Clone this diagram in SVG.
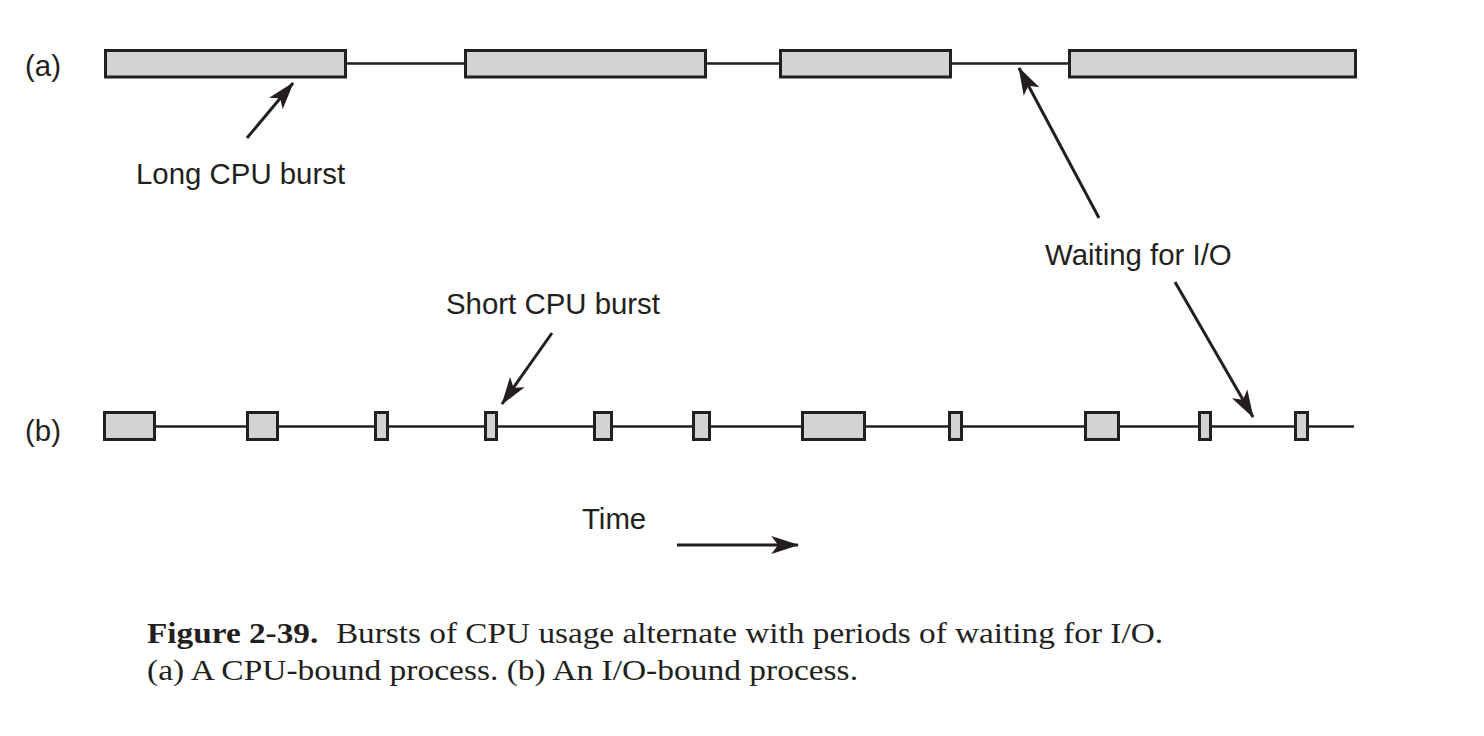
<svg xmlns="http://www.w3.org/2000/svg" width="1484" height="736" viewBox="0 0 1484 736">
<style>
.bar{fill:#d1d3d4;stroke:#231f20;stroke-width:3}
.tl{fill:none;stroke:#231f20;stroke-width:2.5}
.ar{fill:none;stroke:#231f20;stroke-width:3}
.lab{font-family:"Liberation Sans",Arial,sans-serif;font-size:29.4px;fill:#231f20}
.cap{font-family:"Liberation Serif","Times New Roman",serif;font-size:28.5px;fill:#231f20}
</style>
<defs>
<marker id="ah" markerUnits="userSpaceOnUse" markerWidth="30" markerHeight="20" viewBox="-25 -9 27 18" refX="0" refY="0" orient="auto">
<path d="M1,0 L-24,-8 L-18,0 L-24,8 Z" fill="#231f20"/>
</marker>
</defs>
<rect width="1484" height="736" fill="#ffffff"/>
<g id="row-a">
<line class="tl" x1="104" y1="63.5" x2="1357" y2="63.5"/>
<rect class="bar" x="105.5" y="50.5" width="240" height="26.5"/>
<rect class="bar" x="465.5" y="50.5" width="240" height="26.5"/>
<rect class="bar" x="780.5" y="50.5" width="170" height="26.5"/>
<rect class="bar" x="1069.5" y="50.5" width="286" height="26.5"/>
<text class="lab" x="25" y="76">(a)</text>
</g>
<g id="row-b">
<line class="tl" x1="103" y1="426.5" x2="1354" y2="426.5"/>
<rect class="bar" x="104.5" y="412.5" width="50" height="27"/>
<rect class="bar" x="247.5" y="412.5" width="30" height="27"/>
<rect class="bar" x="375.5" y="412.5" width="12" height="27"/>
<rect class="bar" x="485.5" y="412.5" width="11" height="27"/>
<rect class="bar" x="594.5" y="412.5" width="17" height="27"/>
<rect class="bar" x="693.5" y="412.5" width="16" height="27"/>
<rect class="bar" x="802.5" y="412.5" width="62" height="27"/>
<rect class="bar" x="949.5" y="412.5" width="12" height="27"/>
<rect class="bar" x="1085.5" y="412.5" width="33" height="27"/>
<rect class="bar" x="1199.5" y="412.5" width="11" height="27"/>
<rect class="bar" x="1295.5" y="412.5" width="12" height="27"/>
<text class="lab" x="25" y="441">(b)</text>
</g>
<g id="label-long">
<text class="lab" x="136" y="184">Long CPU burst</text>
</g>
<g id="label-waiting">
<text class="lab" x="1045" y="265">Waiting for I/O</text>
</g>
<g id="label-short">
<text class="lab" x="446" y="314">Short CPU burst</text>
</g>
<g id="label-time">
<text class="lab" x="582" y="529">Time</text>
</g>
<g id="connectors">
<line class="ar" x1="247" y1="138" x2="293" y2="83" marker-end="url(#ah)"/>
<line class="ar" x1="1099" y1="218" x2="1019" y2="68" marker-end="url(#ah)"/>
<line class="ar" x1="1175" y1="282" x2="1253" y2="417" marker-end="url(#ah)"/>
<line class="ar" x1="552" y1="333" x2="502" y2="404" marker-end="url(#ah)"/>
<line class="ar" x1="677" y1="545" x2="798" y2="545" marker-end="url(#ah)"/>
</g>
<g id="caption">
<text class="cap" x="147" y="643" textLength="1016" lengthAdjust="spacingAndGlyphs"><tspan font-weight="bold">Figure 2-39.</tspan><tspan dx="8"> Bursts of CPU usage alternate with periods of waiting for I/O.</tspan></text>
<text class="cap" x="147" y="680" textLength="711" lengthAdjust="spacingAndGlyphs">(a) A CPU-bound process. (b) An I/O-bound process.</text>
</g>
</svg>
